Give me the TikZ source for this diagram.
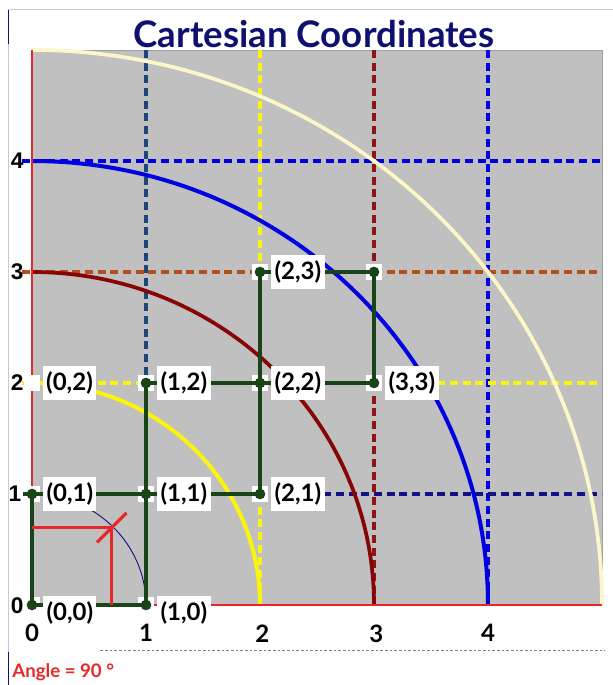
\documentclass[tikz,border=0pt]{standalone}
\usepackage{fontspec}
\setmainfont{Lato}
\newfontfamily\axisfont{Liberation Sans}
\usetikzlibrary{positioning}
\definecolor{titlenavy}{RGB}{16,16,112}
\definecolor{plotgrey}{RGB}{192,192,192}
\definecolor{ptgreen}{RGB}{24,68,24}
\definecolor{axisred}{RGB}{232,40,40}
\definecolor{arcblue}{RGB}{0,0,225}
\definecolor{arcyellow}{RGB}{250,245,10}
\definecolor{arcdarkred}{RGB}{135,5,5}
\definecolor{arccream}{RGB}{252,246,200}
\definecolor{slateblue}{RGB}{28,70,120}
\definecolor{lineNavy}{RGB}{18,18,130}
\definecolor{siennaline}{RGB}{180,78,30}
\definecolor{redline}{RGB}{145,20,20}
\definecolor{frameline}{RGB}{200,200,225}

\begin{document}
\begin{tikzpicture}[x=85.5pt,y=83.25pt]
    \tikzstyle{every node}+=[inner sep=0pt]
    \tikzstyle{dashline}=[line width=2.3pt,dash pattern=on 6pt off 3.5pt]
    \tikzstyle{greenline}=[ptgreen,line width=2.4pt]
    \tikzstyle{dot}=[circle,fill=ptgreen,minimum size=8pt]
    \tikzstyle{pad}=[fill=white,minimum size=11.5pt]
    \tikzstyle{lbl}=[fill=white,font=\bfseries\fontsize{18}{18}\selectfont,inner xsep=2.5pt,inner ysep=4.5pt]
    \tikzstyle{ytick}=[font=\axisfont\bfseries\fontsize{17}{17}\selectfont]
    \tikzstyle{xtick}=[font=\bfseries\fontsize{18}{18}\selectfont]
    \useasboundingbox (-0.2807,-0.7207) rectangle (5.0965,5.4505);
    \draw[frameline,line width=0.6pt] (-0.21,-0.7207) -- (-0.21,5.37) -- (5.0965,5.37);
    \draw[titlenavy,line width=0.8pt] (-0.21,5.36) -- (-0.21,5.05);
    \draw[titlenavy,line width=0.8pt] (-0.21,-0.72) -- (-0.21,-0.42);
    \fill[plotgrey] (0,0) rectangle (5,5);
    \draw[gray!75,line width=0.6pt] (0,5) -- (5,5) -- (5,0);
    \coordinate (p00) at (0,0);
    \coordinate (p01) at (0,1);
    \coordinate (p02) at (0,2);
    \coordinate (p10) at (1,0);
    \coordinate (p11) at (1,1);
    \coordinate (p12) at (1,2);
    \coordinate (p21) at (2,1);
    \coordinate (p22) at (2,2);
    \coordinate (p23) at (2,3);
    \coordinate (p32) at (3,2);
    \coordinate (p33) at (3,3);
    \coordinate (t1) at (-0.08,1);
    \draw[dashline,slateblue] (1,5) -- (p12);
    \draw[dashline,arcyellow] (2,5) -- (p23);
    \draw[dashline,arcyellow] (p21) -- (2,0);
    \draw[dashline,redline] (3,5) -- (p33);
    \draw[dashline,redline] (p32) -- (3,0);
    \draw[dashline,arcblue] (4,5) -- (4,0);
    \draw[dashline,arcblue] (-0.09,4) -- (5,4);
    \draw[dashline,siennaline] (-0.09,3) -- (p23);
    \draw[dashline,siennaline] (p33) -- (5,3);
    \draw[dashline,arcyellow] (-0.09,2) -- (p12);
    \draw[dashline,arcyellow] (p32) -- (5,2);
    \draw[dashline,lineNavy] (p21) -- (5,1);
    \draw[arccream,line width=2.8pt] (0,5) arc[start angle=90,end angle=0,radius=5];
    \draw[arcblue,line width=3pt] (0,4) arc[start angle=90,end angle=0,radius=4];
    \draw[arcdarkred,line width=2.8pt] (0,3) arc[start angle=90,end angle=0,radius=3];
    \draw[arcyellow,line width=3pt] (0,2) arc[start angle=90,end angle=0,radius=2];
    \draw[axisred,line width=1.8pt] (0,5) -- (p00) -- (5,0);
    \node[pad] (s00) at (p00) {};
    \node[pad] (s01) at (p01) {};
    \node[pad] (s02) at (p02) {};
    \node[pad] (s10) at (p10) {};
    \node[pad] (s11) at (p11) {};
    \node[pad] (s12) at (p12) {};
    \node[pad] (s21) at (p21) {};
    \node[pad] (s22) at (p22) {};
    \node[pad] (s23) at (p23) {};
    \node[pad] (s32) at (p32) {};
    \node[pad] (s33) at (p33) {};
    \draw[lineNavy,line width=0.7pt] (p01) arc[start angle=90,end angle=0,radius=1];
    \draw[greenline] (t1) -- (p21);
    \draw[greenline] (p01) -- (p00) -- (p10);
    \draw[greenline] (p10) -- (p12) -- (p32) -- (p33) -- (p23) -- (p21);
    \draw[axisred,line width=2.4pt] (0,0.70) -- (0.70,0.70) -- (0.70,0);
    \draw[axisred,line width=2.4pt] (0.57,0.565) -- (0.83,0.83);
    \node[dot] (d00) at (p00) {};
    \node[dot] (d01) at (p01) {};
    \node[dot] (d10) at (p10) {};
    \node[dot] (d11) at (p11) {};
    \node[dot] (d12) at (p12) {};
    \node[dot] (d21) at (p21) {};
    \node[dot] (d22) at (p22) {};
    \node[dot] (d23) at (p23) {};
    \node[dot] (d32) at (p32) {};
    \node[dot] (d33) at (p33) {};
    \node[lbl,right=4pt of d00,yshift=-6pt] (l00) {(0,0)};
    \node[lbl,right=4pt of d10,yshift=-6pt] (l10) {(1,0)};
    \node[lbl,right=4pt of d01] (l01) {(0,1)};
    \node[lbl,right=4pt of d11] (l11) {(1,1)};
    \node[lbl,right=4pt of d21] (l21) {(2,1)};
    \node[lbl,right=2pt of s02] (l02) {(0,2)};
    \node[lbl,right=4pt of d12] (l12) {(1,2)};
    \node[lbl,right=4pt of d22] (l22) {(2,2)};
    \node[lbl,right=4pt of d32] (l32) {(3,3)};
    \node[lbl,right=4pt of d23] (l23) {(2,3)};
    \node[ytick] (y0) at (-0.13,-0.01) {0};
    \node[ytick] (y1) at (-0.15,1) {1};
    \node[ytick] (y2) at (-0.13,2) {2};
    \node[ytick] (y3) at (-0.13,3) {3};
    \node[ytick] (y4) at (-0.13,4) {4};
    \node[xtick] (x0) at (0,-0.25) {0};
    \node[xtick] (x1) at (1,-0.25) {1};
    \node[xtick] (x2) at (2.02,-0.26) {2};
    \node[xtick] (x3) at (3.02,-0.26) {3};
    \node[xtick] (x4) at (4,-0.25) {4};
    \draw[gray,line width=0.5pt,dash pattern=on 2pt off 1.5pt] (0.6,-0.405) -- (5.03,-0.405);
    \node[titlenavy,font=\bfseries\fontsize{27.5}{27.5}\selectfont] (title) at (2.474,5.14) {Cartesian Coordinates};
    \node[axisred,anchor=west,font=\bfseries\fontsize{14}{14}\selectfont] (angle) at (-0.175,-0.604) {Angle = 90 °};
\end{tikzpicture}
\end{document}
